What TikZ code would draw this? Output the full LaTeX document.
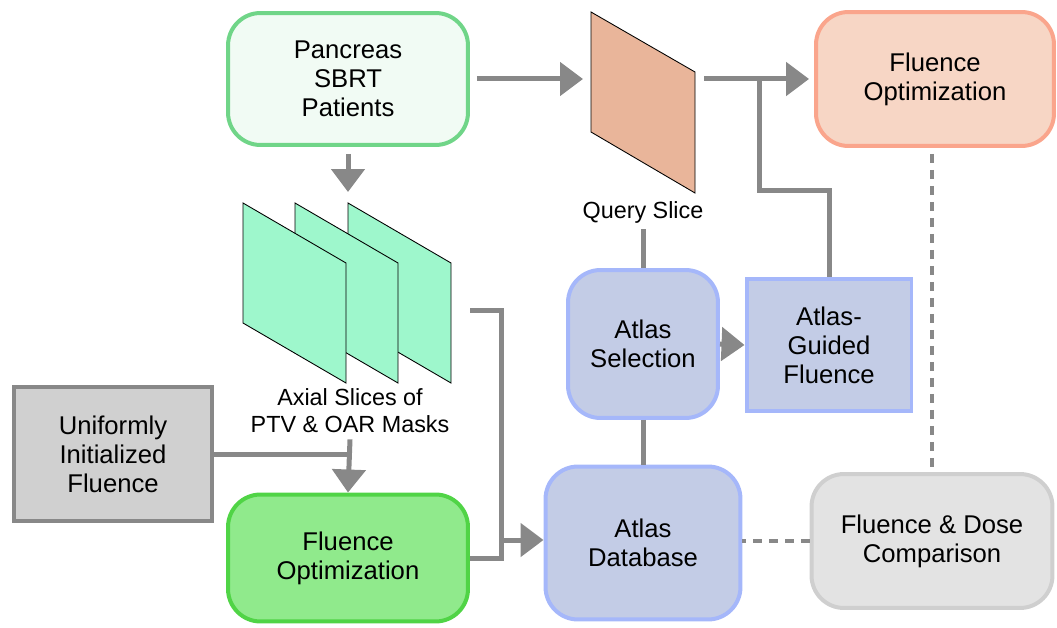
\documentclass[tikz,border=0pt]{standalone}
\usepackage{fontspec}
\setmainfont{Liberation Sans}
\usetikzlibrary{positioning, calc, arrows.meta}

\definecolor{linegray}{RGB}{136,136,136}
\definecolor{patfill}{RGB}{241,251,244}
\definecolor{patdraw}{RGB}{112,213,136}
\definecolor{qfill}{RGB}{233,181,154}
\definecolor{mfill}{RGB}{158,247,204}
\definecolor{ofill}{RGB}{247,214,197}
\definecolor{odraw}{RGB}{250,165,140}
\definecolor{ufill}{RGB}{208,208,208}
\definecolor{gfill}{RGB}{144,234,140}
\definecolor{gdraw}{RGB}{80,212,70}
\definecolor{afill}{RGB}{195,204,230}
\definecolor{adraw}{RGB}{165,183,250}
\definecolor{cfill}{RGB}{227,227,227}
\definecolor{cdraw}{RGB}{207,207,207}

\begin{document}
\begin{tikzpicture}[
    x=0.02cm, y=-0.02cm,
    box/.style={draw, line width=0.08cm, align=center, inner sep=2pt,
        font=\fontsize{14.6}{16.5}\selectfont},
    roundbox/.style={box, rounded corners=0.65cm},
    label/.style={align=center, font=\fontsize{13.3}{15.5}\selectfont},
    link/.style={draw=linegray, line width=0.1cm},
    arrow/.style={link, -{Triangle[length=0.46cm, width=0.66cm]}},
    dashlink/.style={draw=linegray, line width=0.09cm, dash pattern=on 0.18cm off 0.14cm},
    slice/.style={draw=black, line width=0.5pt}
]
\useasboundingbox (0,0) rectangle (1057,628);

% boxes
\node[roundbox, fill=patfill, draw=patdraw, minimum width=4.8cm, minimum height=2.64cm] (pat) at (348,79) {Pancreas\\SBRT\\Patients};
\node[roundbox, fill=ofill, draw=odraw, minimum width=4.76cm, minimum height=2.68cm] (fopt) at (935,79) {Fluence\\Optimization};
\node[box, fill=ufill, draw=linegray, minimum width=3.98cm, minimum height=2.68cm] (uni) at (113,454) {Uniformly\\Initialized\\Fluence};
\node[roundbox, fill=gfill, draw=gdraw, minimum width=4.8cm, minimum height=2.54cm] (gopt) at (348,558) {Fluence\\Optimization};
\node[roundbox, fill=afill, draw=adraw, minimum width=3.0cm, minimum height=2.96cm] (sel) at (643,344) {Atlas\\Selection};
\node[box, fill=afill, draw=adraw, minimum width=3.3cm, minimum height=2.66cm] (guide) at (829,345) {Atlas-\\Guided\\Fluence};
\node[roundbox, fill=afill, draw=adraw, minimum width=3.9cm, minimum height=3.06cm] (db) at (643,543) {Atlas\\Database};
\node[roundbox, fill=cfill, draw=cdraw, minimum width=4.82cm, minimum height=2.68cm] (cmp) at (932,541) {Fluence \& Dose\\Comparison};

% slices
\draw[slice, fill=qfill] (591,12) -- (695,72) -- (695,193) -- (591,132) -- cycle;
\foreach \dx in {105,52,0}
    \draw[slice, fill=mfill] (243+\dx,203) -- ++(103,60) -- ++(0,120) -- ++(-103,-60) -- cycle;
\node[label] (qlab) at (643,212) {Query Slice};
\node[label] (axlab) at (350,411) {Axial Slices of\\PTV \& OAR Masks};

\coordinate (qin) at (583,79);
\coordinate (qout) at (704,79);
\coordinate (axin) at (348,192);
\coordinate (axout) at (470,310);
\coordinate (join) at (759,79);
\coordinate (mid) at (500,540);

% connectors
\draw[arrow, shorten <=0.14cm] (pat) -- (qin);
\draw[arrow, shorten >=0.1cm] (qout) -- (fopt.west |- qout);
\draw[arrow, shorten <=0.14cm] (pat.south) -- (axin);
\draw[link] (guide.north) -- ++(0,-86) -| (join);
\draw[link] (qlab.south) -- (sel.north);
\draw[link] (uni.east) -- (uni.east -| gopt.north);
\draw[arrow] (axlab.south) -- (gopt.north);
\draw[link] (axout) -| ($(gopt.east)+(32,0)$) -- (gopt.east);
\draw[arrow] (mid) -- (db.west |- mid);
\draw[arrow] (sel.east) -- (guide.west);
\draw[link] (sel.south) -- (db.north);
\draw[dashlink] (cmp.west) -- (cmp.west -| db.east);
\draw[dashlink, shorten <=0.12cm, shorten >=0.08cm] (fopt.south -| cmp.north) -- (cmp.north);

\end{tikzpicture}
\end{document}
